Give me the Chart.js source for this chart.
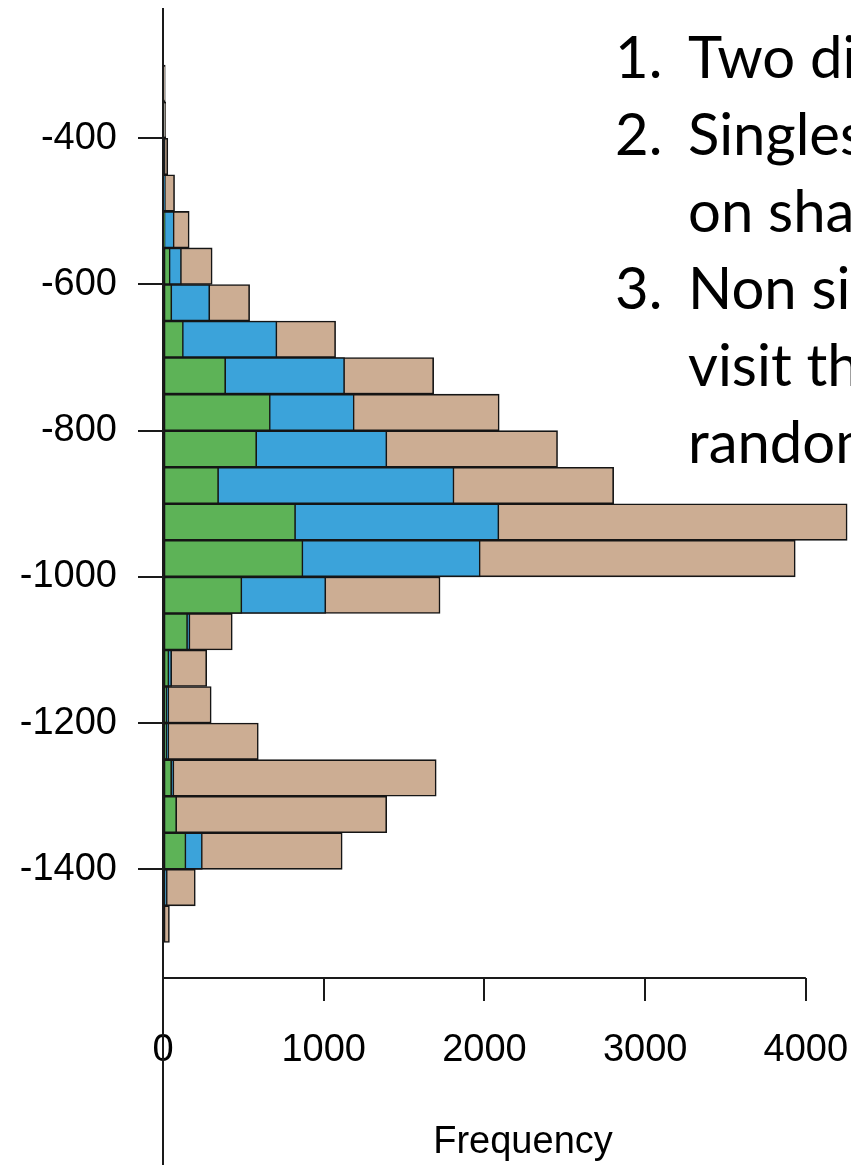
<!DOCTYPE html>
<html>
<head>
<meta charset="utf-8">
<script src="https://cdn.jsdelivr.net/npm/chart.js@4"></script>
<style>
  html, body { margin: 0; padding: 0; background: #fff; overflow: hidden; }
  #wrap { position: relative; width: 851px; height: 1165px; overflow: hidden; }
  #wrap canvas { position: absolute; left: 0; top: 0; }
  #notes {
    position: absolute; left: 615px; top: 17px; width: 400px;
    font-family: Lato, 'Open Sans', sans-serif; font-size: 58px; line-height: 77px;
    color: #000; white-space: nowrap;
  }
  #notes .num { display: inline-block; width: 73px; }
</style>
</head>
<body>
<div id="wrap">
  <!-- the plot region runs a little past the right edge of the picture -->
  <canvas id="histChart" width="883" height="1165"></canvas>
  <div id="notes">
    <div><span class="num">1.</span>Two di</div>
    <div><span class="num">2.</span>Singles</div>
    <div><span class="num"></span>on sha</div>
    <div><span class="num">3.</span>Non si</div>
    <div><span class="num"></span>visit th</div>
    <div><span class="num"></span>random</div>
  </div>
</div>
<script>
// bin centres (bins are 50 wide, from -300 down to -1500)
const binCenters = [-325, -375, -425, -475, -525, -575, -625, -675, -725, -775, -825, -875,
                    -925, -975, -1025, -1075, -1125, -1175, -1225, -1275, -1325, -1375, -1425, -1475];

const tanCounts   = [14, 17, 30, 72, 163, 306, 539, 1074, 1684, 2092, 2455, 2804,
                     4257, 3934, 1724, 431, 272, 300, 593, 1700, 1392, 1115, 201, 40];
const blueCounts  = [4, 6, 5, 15, 70, 115, 291, 709, 1130, 1190, 1393, 1811,
                     2090, 1974, 1013, 168, 54, 37, 37, 68, 85, 245, 27, 0];
const greenCounts = [0, 0, 0, 0, 10, 45, 55, 127, 390, 668, 583, 346,
                     825, 871, 491, 153, 37, 23, 23, 54, 85, 143, 3, 0];

const yTicks = [-400, -600, -800, -1000, -1200, -1400];
const xTicks = [0, 1000, 2000, 3000, 4000];

const toPoints = counts => counts.map((c, i) => ({ x: c, y: binCenters[i] }));

// R-style axis lines: vertical line runs the full height, bottom line only from 0 to 4000
const axisLines = {
    id: 'axisLines',
    afterDraw(chart) {
        const { ctx, chartArea, scales } = chart;
        const x0 = scales.x.getPixelForValue(0);
        const xEnd = scales.x.getPixelForValue(xTicks[xTicks.length - 1]);
        ctx.save();
        ctx.strokeStyle = '#1a1a1a';
        ctx.lineWidth = 2;
        ctx.beginPath();
        ctx.moveTo(x0, chartArea.top);
        ctx.lineTo(x0, chart.height);
        ctx.moveTo(x0, chartArea.bottom);
        ctx.lineTo(xEnd, chartArea.bottom);
        ctx.stroke();
        ctx.restore();
    }
};

const barStyle = {
    borderColor: '#151515',
    borderWidth: 1.6,
    borderSkipped: false,
    grouped: false,
    categoryPercentage: 1,
    barPercentage: 1
};

const tickFont = { family: "'Liberation Sans', Arial, sans-serif", size: 38 };

new Chart(document.getElementById('histChart'), {
    type: 'bar',
    data: {
        datasets: [
            { label: 'green', data: toPoints(greenCounts), backgroundColor: '#5db357', ...barStyle },
            { label: 'blue', data: toPoints(blueCounts), backgroundColor: '#3ba3da', ...barStyle },
            { label: 'tan', data: toPoints(tanCounts), backgroundColor: '#ccad93', ...barStyle }
        ]
    },
    options: {
        indexAxis: 'y',
        responsive: false,
        animation: false,
        layout: { padding: { top: 8, right: 0, bottom: 0, left: 0 } },
        plugins: {
            legend: { display: false },
            tooltip: { enabled: false }
        },
        scales: {
            y: {
                type: 'linear',
                min: -1548.7,
                max: -221.8,
                offset: false,
                afterFit: scale => {
                    scale.width = 163;
                    scale.paddingTop = 0;
                    scale.paddingBottom = 0;
                },
                afterBuildTicks: axis => { axis.ticks = yTicks.map(v => ({ value: v })); },
                border: { display: false },
                grid: {
                    offset: false,
                    drawOnChartArea: false,
                    tickLength: 25,
                    color: '#1a1a1a',
                    lineWidth: 2
                },
                ticks: {
                    padding: 21,
                    color: '#000',
                    font: tickFont,
                    callback: v => String(v)
                }
            },
            x: {
                type: 'linear',
                min: 0,
                max: 4480,
                afterFit: scale => {
                    scale.height = 187;
                    scale.paddingLeft = 0;
                    scale.paddingRight = 0;
                },
                afterBuildTicks: axis => { axis.ticks = xTicks.map(v => ({ value: v })); },
                border: { display: false },
                grid: {
                    drawOnChartArea: false,
                    tickLength: 23,
                    color: '#1a1a1a',
                    lineWidth: 2
                },
                ticks: {
                    padding: 27,
                    maxRotation: 0,
                    color: '#000',
                    font: tickFont,
                    callback: v => String(v)
                },
                title: {
                    display: true,
                    text: 'Frequency',
                    color: '#000',
                    font: tickFont,
                    padding: 0
                }
            }
        }
    },
    plugins: [axisLines]
});
</script>
</body>
</html>
